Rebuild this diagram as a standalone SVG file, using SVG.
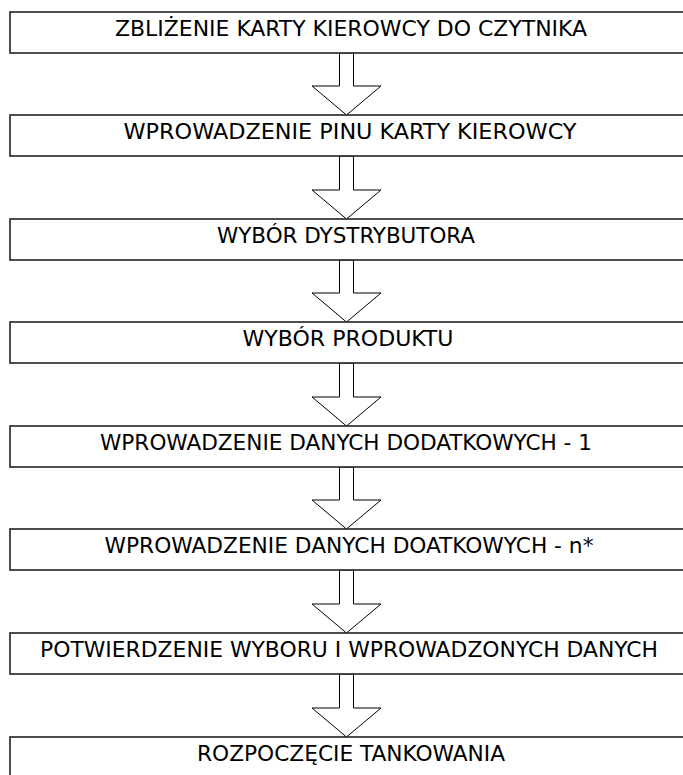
<svg xmlns="http://www.w3.org/2000/svg" width="683" height="775" viewBox="0 0 683 775">
<style>
.box{fill:#fff;stroke:#222;stroke-width:1.6}
.lbl{font-family:"DejaVu Sans Condensed","DejaVu Sans",sans-serif;font-size:21px;fill:#000;text-anchor:middle}
.arr{fill:#fff;stroke:#000;stroke-width:1}
</style>
<rect width="683" height="775" fill="#fff"/>
<g id="connectors">
<path class="arr" d="M339.5,53 V86 H312 L346.5,115 L381,86 H353.5 V53 Z"/>
<path class="arr" d="M339.5,156 V190 H312 L346.5,219 L381,190 H353.5 V156 Z"/>
<path class="arr" d="M339.5,260 V293 H312 L346.5,322 L381,293 H353.5 V260 Z"/>
<path class="arr" d="M339.5,363 V397 H312 L346.5,426 L381,397 H353.5 V363 Z"/>
<path class="arr" d="M339.5,467 V500 H312 L346.5,529 L381,500 H353.5 V467 Z"/>
<path class="arr" d="M339.5,570 V604 H312 L346.5,633 L381,604 H353.5 V570 Z"/>
<path class="arr" d="M339.5,674 V708 H312 L346.5,737 L381,708 H353.5 V674 Z"/>
</g>
<g id="n1"><rect class="box" x="10" y="12" width="690" height="41"/><text class="lbl" x="351" y="36" textLength="472" lengthAdjust="spacingAndGlyphs">ZBLIŻENIE KARTY KIEROWCY DO CZYTNIKA</text></g>
<g id="n2"><rect class="box" x="10" y="115" width="690" height="41"/><text class="lbl" x="350" y="139" textLength="453" lengthAdjust="spacingAndGlyphs">WPROWADZENIE PINU KARTY KIEROWCY</text></g>
<g id="n3"><rect class="box" x="10" y="219" width="690" height="41"/><text class="lbl" x="346" y="243" textLength="258" lengthAdjust="spacingAndGlyphs">WYBÓR DYSTRYBUTORA</text></g>
<g id="n4"><rect class="box" x="10" y="322" width="690" height="41"/><text class="lbl" x="348" y="346" textLength="211" lengthAdjust="spacingAndGlyphs">WYBÓR PRODUKTU</text></g>
<g id="n5"><rect class="box" x="10" y="426" width="690" height="41"/><text class="lbl" x="346" y="450" textLength="492" lengthAdjust="spacingAndGlyphs">WPROWADZENIE DANYCH DODATKOWYCH - 1</text></g>
<g id="n6"><rect class="box" x="10" y="529" width="690" height="41"/><text class="lbl" x="349" y="553" textLength="489" lengthAdjust="spacingAndGlyphs">WPROWADZENIE DANYCH DOATKOWYCH - n*</text></g>
<g id="n7"><rect class="box" x="10" y="633" width="690" height="41"/><text class="lbl" x="349" y="657" textLength="618" lengthAdjust="spacingAndGlyphs">POTWIERDZENIE WYBORU I WPROWADZONYCH DANYCH</text></g>
<g id="n8"><rect class="box" x="10" y="737" width="690" height="41"/><text class="lbl" x="351" y="761" textLength="308" lengthAdjust="spacingAndGlyphs">ROZPOCZĘCIE TANKOWANIA</text></g>
</svg>
